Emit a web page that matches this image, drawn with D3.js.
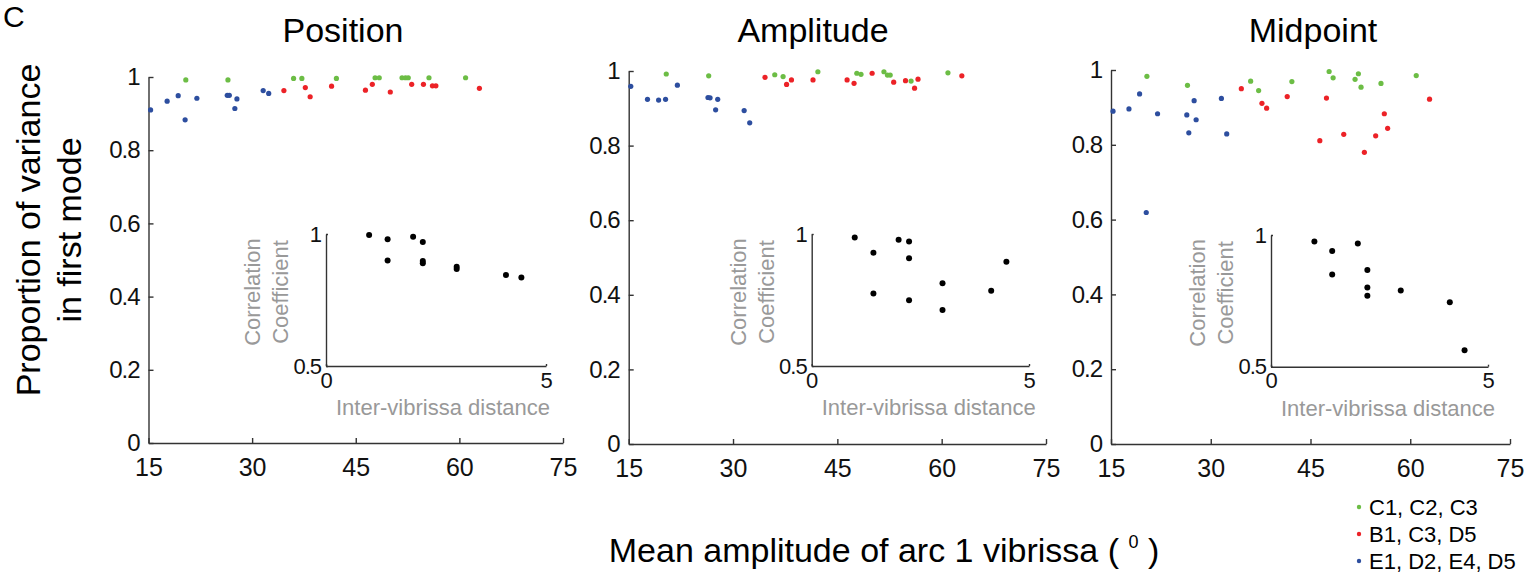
<!DOCTYPE html>
<html>
<head>
<meta charset="utf-8">
<script src="https://cdn.jsdelivr.net/npm/d3@7"></script>
<style>
  body { margin: 0; background: #fff; }
  svg { font-family: "Liberation Sans", Arial, Helvetica, sans-serif; }
  .axis path, .axis line { stroke: #333; stroke-width: 1.4; }
  .axis text { fill: #111; }
</style>
</head>
<body>
<div id="chart"></div>
<script>
  // panel titles and legend groups
  const panelTitles = ["Position", "Amplitude", "Midpoint"];
  const groupNames = ["C1, C2, C3", "B1, C3, D5", "E1, D2, E4, D5"];
  const groupColors = ["#6cbd45", "#ec2227", "#2d4e9f"];

  // mean amplitude of arc 1 vibrissa, per group
  const greenAmp = [20.4, 26.5, 36.0, 37.2, 42.2, 47.8, 48.4, 51.7, 52.2, 52.6, 55.6, 60.9];
  const redAmp = [34.6, 37.7, 38.4, 41.5, 46.4, 47.4, 50.0, 53.1, 54.8, 56.1, 56.6, 62.9];
  const blueAmp = [15.3, 17.7, 19.3, 20.3, 22.0, 26.4, 26.7, 27.5, 27.8, 31.6, 32.4];

  // proportion of variance in first mode
  const positionGreen = [0.992, 0.992, 0.996, 0.996, 0.996, 0.998, 0.998, 0.998, 0.998, 0.998, 0.998, 0.998];
  const positionRed = [0.963, 0.971, 0.946, 0.975, 0.964, 0.980, 0.959, 0.980, 0.980, 0.976, 0.976, 0.969];
  const positionBlue = [0.910, 0.934, 0.949, 0.883, 0.942, 0.950, 0.950, 0.914, 0.940, 0.963, 0.955];

  const amplitudeGreen = [0.992, 0.987, 0.990, 0.985, 0.998, 0.994, 0.991, 0.998, 0.989, 0.989, 0.973, 0.995];
  const amplitudeRed = [0.983, 0.964, 0.976, 0.976, 0.976, 0.967, 0.994, 0.970, 0.974, 0.954, 0.978, 0.987];
  const amplitudeBlue = [0.959, 0.924, 0.922, 0.924, 0.962, 0.929, 0.928, 0.896, 0.924, 0.894, 0.861];

  const midpointGreen = [0.983, 0.959, 0.970, 0.945, 0.969, 0.996, 0.979, 0.975, 0.990, 0.954, 0.964, 0.985];
  const midpointRed = [0.950, 0.911, 0.898, 0.929, 0.811, 0.925, 0.828, 0.780, 0.824, 0.883, 0.844, 0.922];
  const midpointBlue = [0.890, 0.896, 0.936, 0.619, 0.883, 0.880, 0.832, 0.918, 0.867, 0.924, 0.829];

  // insets: correlation coefficient vs inter-vibrissa distance
  const positionDist = [0.98, 1.4, 1.98, 2.2, 1.4, 2.2, 2.2, 2.97, 2.97, 4.09, 4.44];
  const positionCorr = [0.996, 0.98, 0.99, 0.97, 0.90, 0.898, 0.889, 0.876, 0.867, 0.845, 0.835];
  const amplitudeDist = [0.99, 1.42, 2.0, 2.24, 2.24, 4.48, 3.01, 1.42, 4.13, 2.24, 3.01];
  const amplitudeCorr = [0.987, 0.929, 0.978, 0.972, 0.908, 0.895, 0.813, 0.775, 0.785, 0.749, 0.712];
  const midpointDist = [1.0, 1.41, 2.0, 2.22, 1.41, 2.22, 2.22, 2.99, 4.12, 4.46];
  const midpointCorr = [0.975, 0.939, 0.968, 0.867, 0.850, 0.801, 0.769, 0.789, 0.745, 0.562];

  const xTicks = [15, 30, 45, 60, 75];
  const yTicks = [0, 0.2, 0.4, 0.6, 0.8, 1];
  const insetXTicks = [0, 5];
  const insetYTicks = [0.5, 1];

  const W = 1531, H = 573;

  // layout of each panel and inset, in pixels
  const layout = [
    {x0: 148.5, x1: 563, y0: 77, y1: 443, ix0: 326, ix1: 546, iy0: 234, iy1: 366, title: 343},
    {x0: 628.7, x1: 1046, y0: 71, y1: 444, ix0: 811.7, ix1: 1029, iy0: 234, iy1: 366, title: 813},
    {x0: 1111, x1: 1510, y0: 70, y1: 444, ix0: 1271, ix1: 1488, iy0: 235, iy1: 366.7, title: 1313}
  ];

  const series = [
    [positionGreen, positionRed, positionBlue],
    [amplitudeGreen, amplitudeRed, amplitudeBlue],
    [midpointGreen, midpointRed, midpointBlue]
  ];
  const amps = [greenAmp, redAmp, blueAmp];
  const insets = [
    [positionDist, positionCorr],
    [amplitudeDist, amplitudeCorr],
    [midpointDist, midpointCorr]
  ];

  const svg = d3.select("#chart").append("svg")
    .attr("width", W)
    .attr("height", H);

  svg.append("text")
    .attr("x", 3).attr("y", 27)
    .attr("font-size", 30)
    .text("C");

  layout.forEach(function (p, i) {
    const x = d3.scaleLinear().domain([15, 75]).range([p.x0, p.x1]);
    const y = d3.scaleLinear().domain([0, 1]).range([p.y1, p.y0]);

    svg.append("text")
      .attr("x", p.title).attr("y", 42)
      .attr("text-anchor", "middle")
      .attr("font-size", 34)
      .text(panelTitles[i]);

    svg.append("g")
      .attr("class", "axis")
      .attr("transform", "translate(0," + p.y1 + ")")
      .call(d3.axisBottom(x).tickValues(xTicks).tickSizeInner(-5).tickSizeOuter(0).tickPadding(10))
      .call(g => g.selectAll("text").attr("font-size", 25).attr("dy", "0.9em"));

    svg.append("g")
      .attr("class", "axis")
      .attr("transform", "translate(" + p.x0 + ",0)")
      .call(d3.axisLeft(y).tickValues(yTicks).tickFormat(d => String(d)).tickSizeInner(-5).tickSizeOuter(0).tickPadding(9))
      .call(g => g.selectAll("text").attr("font-size", 24).attr("letter-spacing", -1));

    svg.selectAll(".axis .domain").attr("fill", "none");

    series[i].forEach(function (vals, k) {
      svg.append("g").selectAll("circle")
        .data(vals)
        .join("circle")
        .attr("cx", (d, j) => x(amps[k][j]))
        .attr("cy", d => y(d))
        .attr("r", 2.6)
        .attr("fill", groupColors[k]);
    });

    // inset
    const ix = d3.scaleLinear().domain([0, 5]).range([p.ix0, p.ix1]);
    const iy = d3.scaleLinear().domain([0.5, 1]).range([p.iy1, p.iy0]);

    svg.append("g")
      .attr("class", "axis")
      .attr("transform", "translate(0," + p.iy1 + ")")
      .call(d3.axisBottom(ix).tickValues(insetXTicks).tickFormat(d => String(d)).tickSizeInner(-2).tickSizeOuter(0).tickPadding(5))
      .call(g => g.selectAll("text").attr("font-size", 22).attr("dy", "0.76em"));

    svg.append("g")
      .attr("class", "axis")
      .attr("transform", "translate(" + p.ix0 + ",0)")
      .call(d3.axisLeft(iy).tickValues(insetYTicks).tickFormat(d => String(d)).tickSizeInner(-2).tickSizeOuter(0).tickPadding(5))
      .call(g => g.selectAll("text").attr("font-size", 22).attr("letter-spacing", -1));

    svg.selectAll(".axis .domain").attr("fill", "none");

    svg.append("g").selectAll("circle")
      .data(insets[i][0])
      .join("circle")
      .attr("cx", d => ix(d))
      .attr("cy", (d, j) => iy(insets[i][1][j]))
      .attr("r", 3)
      .attr("fill", "#000");

    svg.append("text")
      .attr("x", p.ix0 + 10).attr("y", p.iy1 + 49)
      .attr("font-size", 22)
      .attr("fill", "#999")
      .text("Inter-vibrissa distance");

    const cy = (p.iy0 + p.iy1) / 2 - 8;
    [["Correlation", p.ix0 - 66], ["Coefficient", p.ix0 - 38]].forEach(function (t) {
      svg.append("text")
        .attr("transform", "translate(" + t[1] + "," + cy + ") rotate(-90)")
        .attr("text-anchor", "middle")
        .attr("font-size", 22)
        .attr("fill", "#999")
        .text(t[0]);
    });
  });

  // y axis title
  [["Proportion of variance", 40], ["in first mode", 81]].forEach(function (t) {
    svg.append("text")
      .attr("transform", "translate(" + t[1] + ",230) rotate(-90)")
      .attr("text-anchor", "middle")
      .attr("font-size", 34)
      .text(t[0]);
  });

  // x axis title
  const xt = svg.append("text")
    .attr("x", 884).attr("y", 562)
    .attr("text-anchor", "middle")
    .attr("font-size", 34);
  xt.append("tspan").text("Mean amplitude of arc 1 vibrissa ( ");
  xt.append("tspan").attr("font-size", 18).attr("dy", -14).text("0");
  xt.append("tspan").attr("dy", 14).text(" )");

  // legend
  groupNames.forEach(function (name, k) {
    const ly = 515 + k * 27;
    svg.append("circle")
      .attr("cx", 1359).attr("cy", ly - 8)
      .attr("r", 2.2)
      .attr("fill", groupColors[k]);
    svg.append("text")
      .attr("x", 1369).attr("y", ly)
      .attr("font-size", 22)
      .text(name);
  });
</script>
</body>
</html>
